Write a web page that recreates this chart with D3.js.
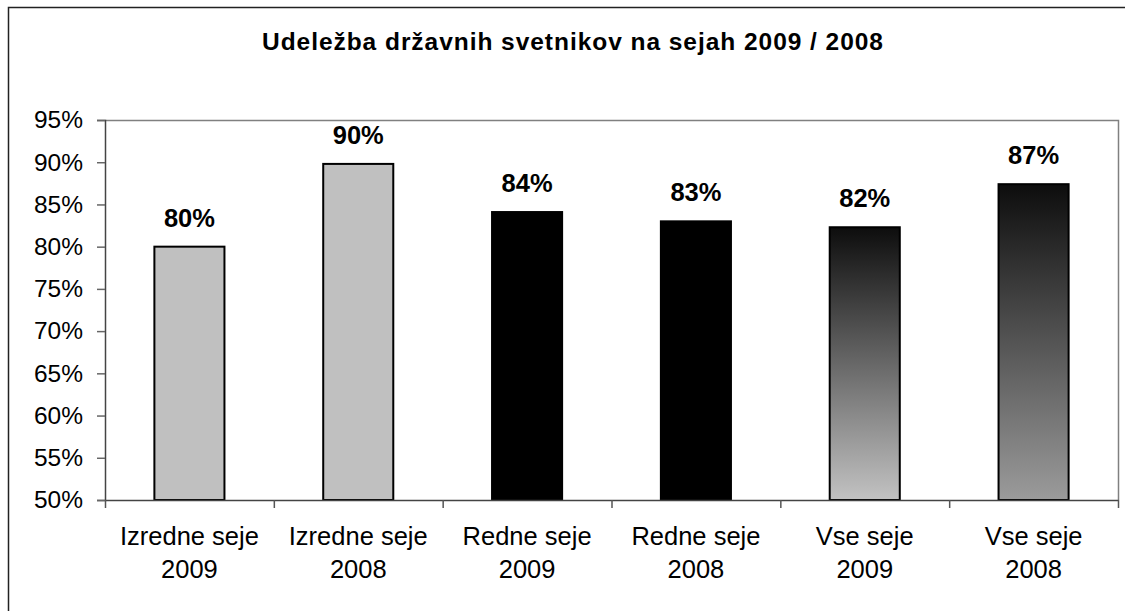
<!DOCTYPE html>
<html>
<head>
<meta charset="utf-8">
<script src="https://cdn.jsdelivr.net/npm/d3@7"></script>
<style>
  body { margin: 0; background: #fff; }
  text { font-family: Arial, "Liberation Sans", sans-serif; fill: #000; }
</style>
</head>
<body>
<div id="chart"></div>
<script>
"use strict";

let title = 'Udeležba državnih svetnikov na sejah 2009 / 2008';
let categories = [
  ['Izredne seje', '2009'],
  ['Izredne seje', '2008'],
  ['Redne seje', '2009'],
  ['Redne seje', '2008'],
  ['Vse seje', '2009'],
  ['Vse seje', '2008']
];
let values = [0.800, 0.898, 0.841, 0.830, 0.823, 0.874];
let yTicks = [0.50, 0.55, 0.60, 0.65, 0.70, 0.75, 0.80, 0.85, 0.90, 0.95];

let width = 1125;
let height = 611;
let plot = { left: 105, top: 120, right: 1118, bottom: 500 };

// bar fills: flat grey, flat black, then two vertical gradients
let fills = ['#c0c0c0', '#c0c0c0', '#000', '#000', 'url(#gradA)', 'url(#gradB)'];

let translateStr = (x, y) => 'translate(' + x + ', ' + y + ')';

let svg = d3.select('#chart')
  .append('svg')
  .attr('width', width)
  .attr('height', height);

let defs = svg.append('defs');
let addGradient = (id, top, bottom) => {
  let g = defs.append('linearGradient')
    .attr('id', id)
    .attr('x1', 0).attr('y1', 0)
    .attr('x2', 0).attr('y2', 1);
  g.append('stop').attr('offset', '0%').attr('stop-color', top);
  g.append('stop').attr('offset', '100%').attr('stop-color', bottom);
};
addGradient('gradA', '#0d0d0d', '#c2c2c2');
addGradient('gradB', '#0d0d0d', '#9b9b9b');

// outer chart frame (runs off the right / bottom of the picture)
svg.append('rect')
  .attr('x', 8.5)
  .attr('y', 7.5)
  .attr('width', width + 20)
  .attr('height', height + 20)
  .attr('fill', '#fff')
  .attr('stroke', '#222')
  .attr('stroke-width', 1.5);

svg.append('text')
  .attr('x', 572.5)
  .attr('y', 50)
  .attr('text-anchor', 'middle')
  .attr('font-size', 24.5)
  .attr('font-weight', 'bold')
  .attr('textLength', 621)
  .attr('lengthAdjust', 'spacing')
  .text(title);

let keys = categories.map((c, i) => i);

let x = d3.scaleBand()
  .domain(keys)
  .range([plot.left, plot.right])
  .paddingInner(0.585)
  .paddingOuter(0.2925);

let y = d3.scaleLinear()
  .domain([0.5, 0.95])
  .range([plot.bottom, plot.top]);

let xEdges = d3.scaleLinear()
  .domain([0, categories.length])
  .range([plot.left, plot.right]);

// plot area: top and right edges
svg.append('path')
  .attr('d', 'M' + plot.left + ',' + (plot.top + 0.5) + 'H' + (plot.right + 0.5) + 'V' + plot.bottom)
  .attr('fill', 'none')
  .attr('stroke', '#808080')
  .attr('stroke-width', 1.5);

let yAxis = svg.append('g')
  .attr('transform', translateStr(plot.left, 0))
  .call(d3.axisLeft(y)
    .tickValues(yTicks)
    .tickFormat(d3.format('.0%'))
    .tickSize(8)
    .tickPadding(14));
yAxis.select('.domain').attr('stroke', '#444').attr('stroke-width', 1.5);
yAxis.selectAll('.tick line').attr('stroke', '#666').attr('stroke-width', 1.5);
yAxis.selectAll('.tick text')
  .attr('font-size', 24.5)
  .attr('font-family', 'Arial, "Liberation Sans", sans-serif')
  .attr('fill', '#000');

svg.selectAll('.bar')
  .data(values)
  .enter()
  .append('rect')
  .attr('class', 'bar')
  .attr('x', (d, i) => x(i))
  .attr('y', d => y(d))
  .attr('width', x.bandwidth())
  .attr('height', d => y(0.5) - y(d))
  .attr('fill', (d, i) => fills[i])
  .attr('stroke', '#000')
  .attr('stroke-width', 2);

let xAxis = svg.append('g')
  .attr('transform', translateStr(0, plot.bottom))
  .call(d3.axisBottom(xEdges)
    .tickValues(d3.range(categories.length + 1))
    .tickFormat('')
    .tickSize(8)
    .tickSizeOuter(0));
xAxis.select('.domain').attr('stroke', '#444').attr('stroke-width', 1.5);
xAxis.selectAll('.tick line').attr('stroke', '#555').attr('stroke-width', 1.5);

svg.selectAll('.value')
  .data(values)
  .enter()
  .append('text')
  .attr('class', 'value')
  .attr('x', (d, i) => x(i) + x.bandwidth() / 2)
  .attr('y', d => y(d) - 20)
  .attr('text-anchor', 'middle')
  .attr('font-size', 25.5)
  .attr('font-weight', 'bold')
  .text(d => d3.format('.0%')(d));

let catLabels = svg.selectAll('.cat')
  .data(categories)
  .enter()
  .append('text')
  .attr('class', 'cat')
  .attr('text-anchor', 'middle')
  .attr('font-size', 25.5);

catLabels.each(function (lines, i) {
  let t = d3.select(this);
  lines.forEach((line, k) => {
    t.append('tspan')
      .attr('x', x(i) + x.bandwidth() / 2)
      .attr('y', 545 + k * 33)
      .text(line);
  });
});
</script>
</body>
</html>
